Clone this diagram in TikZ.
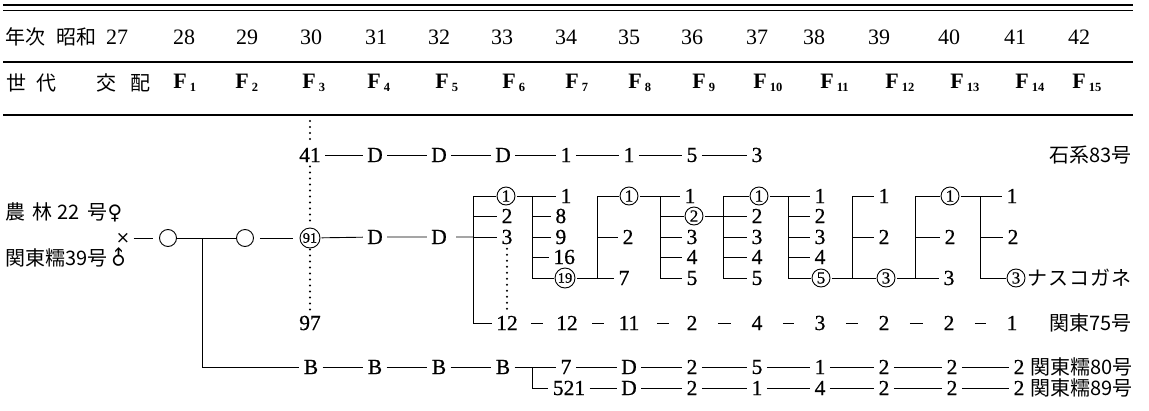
\documentclass[tikz,border=0pt]{standalone}
\usepackage{fontspec}
\newfontfamily\cjk{Noto Sans CJK JP}
\newfontfamily\djv{DejaVu Sans}
\newfontfamily\numf{Liberation Serif}[FakeBold=0.6]
\newfontfamily\numh{Liberation Serif}
\begin{document}
\begin{tikzpicture}[x=1pt,y=-1pt,line width=0.9pt,
  num/.style={inner sep=4pt,font=\numf\fontsize{21.5}{21.5}\selectfont},
  hd/.style={inner sep=0pt,font=\numh\fontsize{22}{22}\selectfont},
  jp/.style={inner sep=0pt,font=\cjk\fontsize{20}{20}\selectfont},
  cn/.style={circle,draw,line width=0.9pt,inner sep=0pt,minimum size=18pt,outer sep=1.5pt,font=\numf\fontsize{17}{17}\selectfont},
  cc/.style={cn,minimum size=20pt,font=\numf\fontsize{14.5}{14.5}\selectfont},
  oc/.style={circle,draw,line width=0.9pt,inner sep=0pt,minimum size=17pt},
  dotl/.style={line width=2.2pt,dash pattern=on 0pt off 6pt,line cap=round},
  fl/.style={anchor=west,inner sep=0pt,font=\numh\fontsize{22}{22}\selectfont\bfseries},
  sd/.style={shorten <=#1,shorten >=#1},
]
\useasboundingbox (0,0) rectangle (1149,410);
% rules
\draw[line width=2pt] (3,5) -- (1133,5);
\draw[line width=1pt] (3,10) -- (1133,10);
\draw[line width=1.2pt] (3,62) -- (1133,62);
\draw[line width=1.2pt] (3,115) -- (1133,115);
% header row 1
\node[jp,anchor=west] (h1) at (5,37) {年次};
\node[jp,anchor=west] (h2) at (56,37) {昭和};
\foreach \x/\t [count=\i] in {117/27,184/28,247/29,311/30,376/31,439/32,502/33,566/34,629/35,692/36,757/37,814/38,879/39,949/40,1015/41,1079/42}
  \node[hd] (yr\i) at (\x,37) {\t};
% header row 2
\node[jp] (g1) at (16,83) {世};
\node[jp] (g2) at (46,83) {代};
\node[jp] (g3) at (106,83) {交};
\node[jp] (g4) at (140,83) {配};
\foreach \x/\n in {173/1,235/2,302/3,367/4,435/5,502/6,565/7,628/8,692/9,753/10,820/11,885/12,950/13,1015/14,1072/15}
  \node[fl] (F\n) at (\x,83) {F\hspace{3pt}\raisebox{-3pt}{\fontsize{12.5}{12.5}\selectfont\bfseries \n}};
% top line
\node[num] (t30) at (310,155) {41};
\node[num] (t31) at (375,155) {D};
\node[num] (t32) at (439,155) {D};
\node[num] (t33) at (503,155) {D};
\node[num] (t34) at (566,155) {1};
\node[num] (t35) at (629,155) {1};
\node[num] (t36) at (692,155) {5};
\node[num] (t37) at (757,155) {3};
\node[jp,anchor=east] (l1) at (1132,155) {石系83号};
\draw (t30) -- (t31) -- (t32) -- (t33) -- (t34) -- (t35) -- (t36) -- (t37);
% parents
\node[jp,anchor=west] (p1) at (5,212) {農\hspace{7pt}林\hspace{5pt}22\hspace{8pt}号{\djv ♀}};
\node[jp,anchor=west] (p2) at (5,258) {関東糯39号{\djv\rotatebox[origin=c]{45}{♂}}};
\node[inner sep=3pt,font=\djv\fontsize{17}{17}\selectfont] (x) at (123,238) {×};
\node[oc] (o1) at (168,238) {};
\node[oc] (o2) at (245,238) {};
\node[cc] (c91) at (310,238) {91};
\draw[shorten >=6pt] (x) -- (o1);
\draw (o1) -- (o2);
\draw[sd=6pt] (o2) -- (c91);
% dotted
\coordinate (dtop) at (310,121);
\node[num] (n97) at (310,323) {97};
\draw[dotl] (dtop) -- (t30);
\draw[dotl] (t30) -- (c91);
\draw[dotl] (c91) -- (n97);
% main row
\node[num] (m31) at (375,237) {D};
\node[num] (m32) at (439,237) {D};
\coordinate (j33) at (473,237);
\draw[shorten <=5pt] (c91) -- (m31) -- (m32) -- (j33);
% column 33
\coordinate (b33t) at (473,196);
\coordinate (b33b) at (473,323);
\draw (b33t) -- (b33b);
\node[cn] (a1) at (506,196) {1};
\node[num] (a2) at (507,216) {2};
\node[num] (a3) at (507,237) {3};
\node[num] (a12) at (507,323) {12};
\draw (b33t) -- (a1);
\draw (b33t) |- (a2);
\draw (b33t) |- (a3);
\draw (b33b) -- (a12);
\draw[dotl] (a3) -- (a12);
% column 34
\node[num] (b1) at (566,196) {1};
\node[num,anchor=west] (b2) at (551,216) {8};
\node[num,anchor=west] (b3) at (551,237) {9};
\node[num,anchor=west] (b4) at (549,257) {16};
\node[cc] (b5) at (565,278) {19};
\coordinate (b34t) at (532,196);
\draw (a1) -- (b1);
\draw (b34t) |- (b2);
\draw (b34t) |- (b3);
\draw (b34t) |- (b4);
\draw (b34t) |- (b5);
% column 35
\node[cn] (c1) at (629,196) {1};
\node[num] (c3) at (628,237) {2};
\node[num] (c5) at (624,278) {7};
\coordinate (b35t) at (597,196);
\coordinate (b35b) at (597,278);
\draw (b5) -- (c5);
\draw (b35b) -- (b35t) -- (c1);
\draw (b35t) |- (c3);
% column 36
\node[num] (d1) at (690,196) {1};
\node[cn] (d2) at (694,216) {2};
\node[num] (d3) at (692,237) {3};
\node[num] (d4) at (692,257) {4};
\node[num] (d5) at (692,278) {5};
\coordinate (b36t) at (660,196);
\draw (c1) -- (d1);
\draw (b36t) |- (d2);
\draw (b36t) |- (d3);
\draw (b36t) |- (d4);
\draw (b36t) |- (d5);
% column 37
\node[cn] (e1) at (759,196) {1};
\node[num] (e2) at (757,216) {2};
\node[num] (e3) at (757,237) {3};
\node[num] (e4) at (757,257) {4};
\node[num] (e5) at (757,278) {5};
\coordinate (b37t) at (723,196);
\draw (d2) -- (e2);
\draw (b37t) -- (e1);
\draw (b37t) |- (e3);
\draw (b37t) |- (e4);
\draw (b37t) |- (e5);
% column 38
\node[num] (f1) at (820,196) {1};
\node[num] (f2) at (820,216) {2};
\node[num] (f3) at (820,237) {3};
\node[num] (f4) at (820,257) {4};
\node[cn] (f5) at (821,278) {5};
\coordinate (b38t) at (788,196);
\draw (e1) -- (f1);
\draw (b38t) |- (f2);
\draw (b38t) |- (f3);
\draw (b38t) |- (f4);
\draw (b38t) |- (f5);
% column 39
\node[num] (g1n) at (884,196) {1};
\node[num] (g3n) at (884,237) {2};
\node[cn] (g5n) at (886,278) {3};
\coordinate (b39t) at (852,196);
\coordinate (b39b) at (852,278);
\draw (f5) -- (g5n);
\draw (b39b) -- (b39t) -- (g1n);
\draw (b39t) |- (g3n);
% column 40
\node[cn] (h1n) at (950,196) {1};
\node[num] (h3n) at (950,237) {2};
\node[num] (h5n) at (949,278) {3};
\coordinate (b40t) at (915,196);
\coordinate (b40b) at (915,278);
\draw (g5n) -- (h5n);
\draw (b40b) -- (b40t) -- (h1n);
\draw (b40t) |- (h3n);
% column 41
\node[num] (i1) at (1012,196) {1};
\node[num] (i3) at (1013,237) {2};
\node[cn] (i5) at (1016,278) {3};
\node[jp,anchor=west] (nasu) at (1027,278) {ナ\hspace{1pt}ス\hspace{1pt}コ\hspace{1pt}ガ\hspace{1pt}ネ};
\coordinate (b41t) at (980,196);
\draw (h1n) -- (i1);
\draw (b41t) |- (i3);
\draw (b41t) |- (i5);
% row 12
\node[num] (r2) at (567,323) {12};
\node[num] (r3) at (629,323) {11};
\node[num] (r4) at (692,323) {2};
\node[num] (r5) at (757,323) {4};
\node[num] (r6) at (820,323) {3};
\node[num] (r7) at (884,323) {2};
\node[num] (r8) at (949,323) {2};
\node[num] (r9) at (1012,323) {1};
\node[jp,anchor=east] (l75) at (1132,323) {関東75号};
\draw[sd=9pt] (a12) -- (r2);
\draw[sd=10pt] (r2) -- (r3);
\draw[sd=13pt] (r3) -- (r4);
\draw[sd=16pt] (r4) -- (r5);
\draw[sd=16pt] (r5) -- (r6);
\draw[sd=16pt] (r6) -- (r7);
\draw[sd=16pt] (r7) -- (r8);
\draw[sd=16pt] (r8) -- (r9);
% B row
\coordinate (jB) at (202,238);
\node[num] (B30) at (311,367) {B};
\node[num] (B31) at (375,367) {B};
\node[num] (B32) at (439,367) {B};
\node[num] (B33) at (503,367) {B};
\node[num] (s34) at (566,367) {7};
\node[num] (s35) at (629,367) {D};
\node[num] (s36) at (692,367) {2};
\node[num] (s37) at (757,367) {5};
\node[num] (s38) at (820,367) {1};
\node[num] (s39) at (884,367) {2};
\node[num] (s40) at (952,367) {2};
\node[num] (s41) at (1019,367) {2};
\node[jp,anchor=west] (l80) at (1030,367) {関東糯80号};
\draw (jB) |- (B30);
\draw (B30) -- (B31) -- (B32) -- (B33) -- (s34) -- (s35) -- (s36) -- (s37) -- (s38) -- (s39) -- (s40) -- (s41);
% 521 row
\coordinate (jC) at (532,367);
\node[num] (u34) at (569,388) {521};
\node[num] (u35) at (629,388) {D};
\node[num] (u36) at (692,388) {2};
\node[num] (u37) at (757,388) {1};
\node[num] (u38) at (820,388) {4};
\node[num] (u39) at (884,388) {2};
\node[num] (u40) at (952,388) {2};
\node[num] (u41) at (1019,388) {2};
\node[jp,anchor=west] (l89) at (1030,388) {関東糯89号};
\draw (jC) |- (u34);
\draw (u34) -- (u35) -- (u36) -- (u37) -- (u38) -- (u39) -- (u40) -- (u41);
\end{tikzpicture}
\end{document}
